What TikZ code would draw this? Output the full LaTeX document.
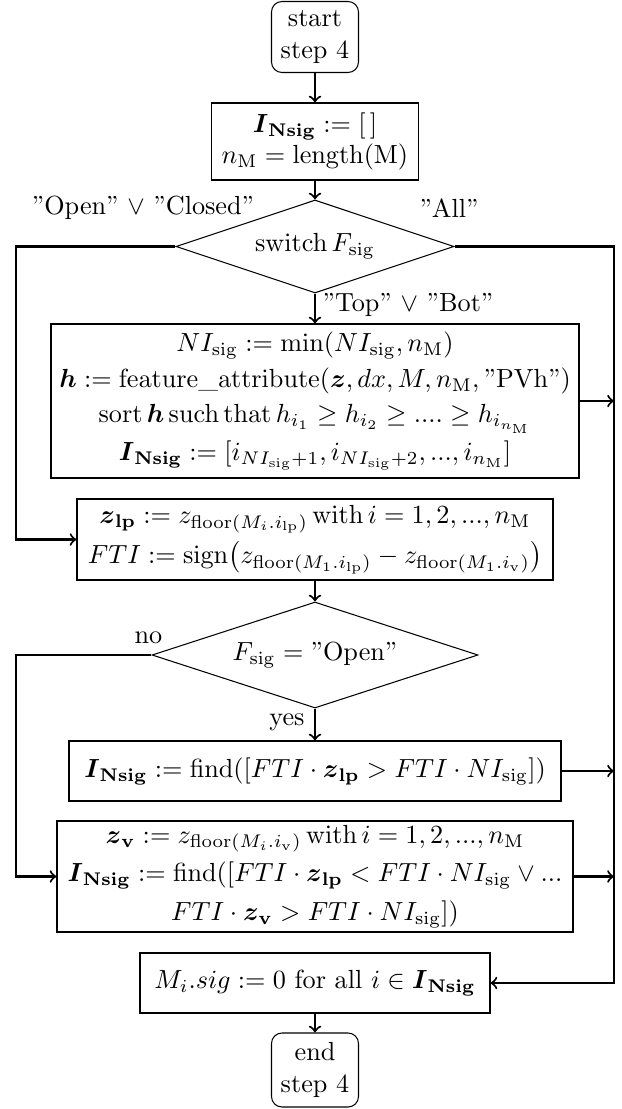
\documentclass[tikz,border=0pt]{standalone}
\usepackage{amsmath,amssymb}
\usetikzlibrary{shapes.geometric,calc}
\newcommand{\pxu}{*0.3817pt}
\newcommand{\INsig}{\boldsymbol{I}_{\mathbf{Nsig}}}
\newcommand{\msig}{_{\mathrm{sig}}}
\newcommand{\nM}{n_{\mathrm{M}}}
\newcommand{\qq}[1]{\textquotedblright#1\textquotedblright}
\begin{document}
\begin{tikzpicture}[x=0.3817pt,y=-0.3817pt,
  box/.style={draw,line width=0.4pt,rectangle,align=center,inner sep=0pt},
  term/.style={box,rounded corners=4pt},
  dec/.style={draw,line width=0.4pt,diamond,aspect=3,inner sep=0pt,align=center},
  conn/.style={->,line width=0.8pt},
  lbl/.style={inner sep=0pt}]
\useasboundingbox (0,0) rectangle (621,1109);

\coordinate (lft) at (16,0);
\coordinate (rgt) at (614,0);

\node[term,minimum width=87\pxu,minimum height=71\pxu] (start) at (315,37) {start\\step 4};
\node[box,minimum width=207\pxu,minimum height=77\pxu] (b1) at (315,141.5)
  {$\INsig := [\,]$\\ $\nM = \mathrm{length}(\mathrm{M})$};
\node[dec,minimum width=278\pxu,minimum height=93\pxu] (d1) at (315,246.5)
  {$\mathrm{switch}\,F\msig$};
\node[box,minimum width=528\pxu,minimum height=154\pxu] (b2) at (315,401)
  {$NI\msig := \min(NI\msig, \nM)$\\[1.5pt]
   $\boldsymbol{h} := \mathrm{feature\_attribute}(\boldsymbol{z}, dx, M, \nM, \text{\qq{PVh}})$\\[1.5pt]
   $\mathrm{sort}\,\boldsymbol{h}\,\mathrm{such\,that}\,h_{i_1} \geq h_{i_2} \geq .... \geq h_{i_{\nM}}$\\[2.5pt]
   $\INsig := [i_{NI\msig+1}, i_{NI\msig+2}, ..., i_{\nM}]$};
\node[box,minimum width=476\pxu,minimum height=81\pxu] (b3) at (315,539.5)
  {$\boldsymbol{z}_{\mathbf{lp}} := z_{\mathrm{floor}(M_i.i_{\mathrm{lp}})}\,\mathrm{with}\,i = 1,2,...,\nM$\\[2pt]
   $FTI := \mathrm{sign}\big(z_{\mathrm{floor}(M_1.i_{\mathrm{lp}})} - z_{\mathrm{floor}(M_1.i_{\mathrm{v}})}\big)$};
\node[dec,aspect=3.08,minimum width=326\pxu,minimum height=106\pxu] (d2) at (315,655)
  {$F\msig = \text{\qq{Open}}$};
\node[box,minimum width=492\pxu,minimum height=60\pxu] (b4) at (315,771)
  {$\INsig := \mathrm{find}([FTI\cdot\boldsymbol{z}_{\mathbf{lp}} > FTI\cdot NI\msig])$};
\node[box,minimum width=516\pxu,minimum height=111\pxu] (b5) at (315,876.5)
  {$\boldsymbol{z}_{\mathbf{v}} := z_{\mathrm{floor}(M_i.i_{\mathrm{v}})}\,\mathrm{with}\,i = 1,2,...,\nM$\\[2.5pt]
   $\INsig := \mathrm{find}([FTI\cdot\boldsymbol{z}_{\mathbf{lp}} < FTI\cdot NI\msig \vee ...$\\[3pt]
   $FTI\cdot\boldsymbol{z}_{\mathbf{v}} > FTI\cdot NI\msig])$};
\node[box,minimum width=350\pxu,minimum height=60\pxu] (b6) at (315,983)
  {$M_i.sig := 0$ for all $i \in \INsig$};
\node[term,minimum width=87\pxu,minimum height=74\pxu] (end) at (315,1070) {end\\step 4};

\node[lbl] (lopen) at (143,208) {\qq{Open} $\vee$ \qq{Closed}};
\node[lbl] (lall) at (449,208) {\qq{All}};
\node[lbl] (ltop) at (408,305) {\qq{Top} $\vee$ \qq{Bot}};
\node[lbl] (lno) at (148.5,638) {no};
\node[lbl] (lyes) at (287,722) {yes};

\draw[conn] (start.south) -- (b1.north);
\draw[conn] (b1.south) -- (d1.north);
\draw[conn] (d1.south) -- (b2.north);
\draw[conn] (d1.west) -- (d1.west -| lft) |- (b3.west);
\draw[conn] (d1.east) -- (d1.east -| rgt) |- (b6.east);
\draw[conn] (b2.east) -- (b2.east -| rgt);
\draw[conn] (b3.south) -- (d2.north);
\draw[conn] (d2.west) -- (d2.west -| lft) |- (b5.west);
\draw[conn] (d2.south) -- (b4.north);
\draw[conn] (b4.east) -- (b4.east -| rgt);
\draw[conn] (b5.east) -- (b5.east -| rgt);
\draw[conn] (b6.south) -- (end.north);
\end{tikzpicture}
\end{document}
